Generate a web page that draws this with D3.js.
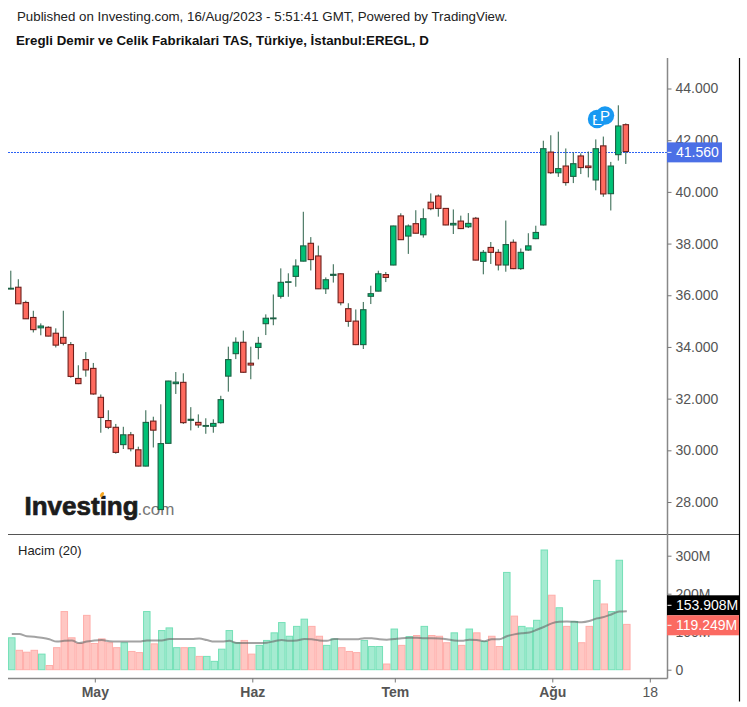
<!DOCTYPE html>
<html>
<head>
<meta charset="utf-8">
<script src="https://cdn.jsdelivr.net/npm/d3@7"></script>
<style>
    html, body { margin: 0; padding: 0; background: #fff; }
    svg { display: block; font-family: "Liberation Sans", Arial, sans-serif; }
</style>
</head>
<body>
<div id="chart"></div>
<script>
// values, one entry per trading day
var opens = [36.24,36.31,35.72,35.14,34.74,34.76,34.53,34.37,34.09,32.78,
    33.51,33.17,32.05,31.15,30.89,30.22,30.60,30.02,29.39,31.13,
    27.71,30.27,32.58,32.63,31.16,31.08,30.93,30.93,31.07,32.87,
    33.74,34.18,33.37,33.98,34.90,35.09,35.96,36.50,36.73,37.32,
    38.01,37.52,36.25,36.77,36.83,35.48,35.00,34.09,35.96,36.16,
    36.80,37.17,39.07,38.29,38.77,38.34,39.60,39.84,39.36,38.72,
    38.87,38.65,38.98,37.31,37.85,37.66,37.17,38.05,37.03,37.75,
    38.19,38.72,41.54,40.74,41.00,40.60,41.39,41.00,40.46,41.78,
    39.93,41.44,42.60];
var highs = [36.95,36.62,35.79,35.40,34.91,34.80,34.72,35.40,34.19,33.29,
    33.80,33.38,32.16,31.55,31.02,30.91,30.71,30.14,31.55,31.30,
    31.78,32.69,33.03,32.98,31.67,31.39,31.24,31.20,32.11,34.01,
    34.37,34.63,34.01,34.39,35.26,36.03,37.04,36.85,37.39,39.23,
    38.25,37.92,36.69,37.20,36.85,35.69,35.45,35.74,36.37,36.95,
    36.90,38.69,39.17,38.74,39.29,39.36,39.94,39.90,39.37,39.32,
    39.08,39.18,39.03,37.75,38.06,37.78,38.89,38.16,37.81,38.40,
    38.69,41.98,42.19,42.33,41.68,41.52,41.49,41.56,42.03,42.14,
    41.16,43.35,42.65];
var lows = [36.23,35.66,35.08,34.56,34.45,34.41,33.98,34.06,32.81,32.56,
    32.85,32.15,30.68,30.82,29.87,30.05,29.96,29.38,29.38,30.11,
    27.69,30.26,32.18,31.02,30.77,30.87,30.64,30.68,31.03,32.27,
    33.53,33.00,32.75,33.52,34.46,34.84,35.87,35.94,36.33,37.31,
    36.96,36.24,36.05,36.49,35.61,34.78,34.07,33.92,35.66,36.15,
    36.51,37.16,38.14,37.60,38.39,38.23,39.29,39.04,38.71,38.37,
    38.56,38.60,37.35,36.81,37.21,36.96,36.91,37.01,36.98,37.72,
    38.17,38.70,40.69,40.58,40.24,40.34,40.69,40.56,40.06,39.81,
    39.28,41.21,41.08];
var closes = [36.27,35.67,35.09,34.67,34.81,34.42,34.07,34.14,32.86,32.58,
    33.11,32.18,31.27,30.89,29.92,30.60,30.06,29.39,31.08,30.78,
    30.26,32.68,32.64,31.07,31.20,30.98,30.96,31.04,31.96,33.51,
    34.18,33.02,33.30,34.14,35.11,35.12,36.50,36.52,37.13,37.91,
    37.38,36.25,36.60,36.81,35.71,34.99,34.09,35.44,36.06,36.83,
    36.69,38.68,38.15,38.68,38.40,38.96,39.35,39.36,38.72,38.78,
    38.58,38.78,37.36,37.66,37.66,37.17,37.96,37.03,37.66,37.91,
    38.43,41.67,40.74,40.90,40.36,41.09,40.94,40.94,41.67,39.92,
    41.00,42.55,41.56];

// volume in millions
var volumes = [84,51,46,51,41,11,58,153,84,69,
    143,69,81,71,58,71,48,45,153,68,
    103,110,58,58,58,35,35,22,54,103,
    71,77,41,64,77,97,124,88,114,133,
    114,88,64,81,58,48,45,77,61,61,
    15,107,64,87,90,114,90,88,71,97,
    64,107,97,74,88,61,256,141,114,110,
    130,315,196,163,114,127,71,114,235,173,
    153,288,119.249];
var volumeMA = [94,94,88,87,84,80,74,76,77,70,
    74,77,78,75,74,74,74,74,77,77,
    77,81,81,81,81,82,78,74,74,76,
    70,70,70,70,71,75,78,76,77,81,
    80,77,76,81,80,80,80,83,83,80,
    79,81,83,84,84,83,83,82,80,77,
    76,79,78,75,80,80,88,93,96,98,
    105,113,122,126,127,126,125,128,135,139,
    146,153,153.908];

var priceTicks = [28,30,32,34,36,38,40,42,44];
var volumeTicks = [0,100,200,300];
var timeTicks = [11,32,51,72,85];
var timeLabels = ["May","Haz","Tem","Ağu","18"];
var lastClose = 41.56;
var lastMA = 153.908;
var lastVolume = 119.249;

var width = 747, height = 707;
var left = 8, axisX = 667.5, borderX = 739.5;
var paneTop = 58, paneBottom = 534.5, timeY = 678.5;

var svg = d3.select("#chart").append("svg")
    .attr("width", width)
    .attr("height", height);

var x = d3.scaleLinear().domain([0, 82]).range([10.8, 625.8]);
var y = d3.scaleLinear().domain([28, 44]).range([502, 88.5]);
var yVol = d3.scaleLinear().domain([0, 300]).range([669.7, 555.7]);

svg.append("clipPath").attr("id", "plot")
    .append("rect").attr("x", left).attr("y", 0).attr("width", axisX - left).attr("height", height);

// header
svg.append("text").attr("x", 17).attr("y", 21)
    .style("font-size", "13.3px").attr("fill", "#222")
    .text("Published on Investing.com, 16/Aug/2023 - 5:51:41 GMT, Powered by TradingView.");
svg.append("text").attr("x", 16).attr("y", 45)
    .style("font-size", "13.3px").style("font-weight", "bold").attr("fill", "#111")
    .text("Eregli Demir ve Celik Fabrikalari TAS, Türkiye, İstanbul:EREGL, D");
svg.append("text").attr("x", 18).attr("y", 554.5)
    .style("font-size", "13px").attr("fill", "#222")
    .text("Hacim (20)");

// logo sits under the candles
var logo = svg.append("g");
logo.append("text").attr("x", 24.5).attr("y", 514.5)
    .style("font-size", "26px").style("font-weight", "bold")
    .attr("fill", "#1c1c1c").attr("stroke", "#1c1c1c").attr("stroke-width", 0.7)
    .text("Investing");
logo.append("text").attr("x", 137.5).attr("y", 514.5)
    .style("font-size", "17px").attr("fill", "#777")
    .text(".com");
logo.append("ellipse").attr("cx", 102).attr("cy", 494.5).attr("rx", 1.6).attr("ry", 2.8)
    .attr("transform", "rotate(35 102 494.5)").attr("fill", "#f5a623");

// volume bars
var barsG = svg.append("g").attr("clip-path", "url(#plot)");
barsG.selectAll("rect")
    .data(volumes)
    .enter()
    .append("rect")
        .attr("x", function(d, i) { return x(i) + 1 - 3.25; })
        .attr("y", function(d) { return yVol(d); })
        .attr("width", 6.5)
        .attr("height", function(d) { return yVol(0) - yVol(d); })
        .attr("fill", function(d, i) { return closes[i] >= opens[i] ? "#a5ebd1" : "#ffc7c3"; })
        .attr("stroke", function(d, i) { return closes[i] >= opens[i] ? "#74e0b7" : "#ffaeaa"; })
        .attr("stroke-width", 1);

var maLine = d3.line()
    .x(function(d, i) { return x(i) + 1; })
    .y(function(d) { return yVol(d); })
    .curve(d3.curveMonotoneX);

svg.append("path")
    .attr("d", maLine(volumeMA))
    .attr("fill", "none")
    .attr("stroke", "#666")
    .attr("stroke-opacity", 0.6)
    .attr("stroke-width", 2);

// last price line
svg.append("line")
    .attr("x1", left).attr("x2", axisX)
    .attr("y1", Math.round(y(lastClose)) + 0.5).attr("y2", Math.round(y(lastClose)) + 0.5)
    .attr("stroke", "#2b62f5").attr("stroke-width", 1).attr("stroke-dasharray", "2 1");

// candles
var candles = svg.append("g").attr("clip-path", "url(#plot)")
    .selectAll("g")
    .data(closes)
    .enter()
    .append("g");

function isUp(i) { return closes[i] >= opens[i]; }

candles.append("line")
    .attr("x1", function(d, i) { return x(i); })
    .attr("x2", function(d, i) { return x(i); })
    .attr("y1", function(d, i) { return y(highs[i]); })
    .attr("y2", function(d, i) { return y(lows[i]); })
    .attr("stroke", "#2b6149")
    .attr("stroke-width", 1);

candles.append("rect")
    .attr("x", function(d, i) { return x(i) - 2.7; })
    .attr("y", function(d, i) { return y(Math.max(opens[i], closes[i])); })
    .attr("width", 5.4)
    .attr("height", function(d, i) { return Math.abs(y(opens[i]) - y(closes[i])); })
    .attr("fill", function(d, i) { return isUp(i) ? "#00c176" : "#ff6a5e"; })
    .attr("stroke", function(d, i) { return isUp(i) ? "#1d5f43" : "#6e1f1c"; })
    .attr("stroke-width", 1.1);

// event markers, the P badge covers most of the E
[["E", 597, 119], ["P", 605, 115.5]].forEach(function(m) {
    svg.append("circle").attr("cx", m[1]).attr("cy", m[2]).attr("r", 9.2).attr("fill", "#1899f2");
    svg.append("text").attr("x", m[1]).attr("y", m[2] + 5.5)
        .attr("text-anchor", "middle").attr("fill", "#fff")
        .style("font-size", "15px")
        .text(m[0]);
});

// frame lines
svg.append("line").attr("x1", left).attr("x2", borderX).attr("y1", paneBottom).attr("y2", paneBottom)
    .attr("stroke", "#555").attr("stroke-width", 1);
svg.append("line").attr("x1", axisX).attr("x2", axisX).attr("y1", paneTop).attr("y2", timeY)
    .attr("stroke", "#888").attr("stroke-width", 1.5);
svg.append("line").attr("x1", left).attr("x2", axisX).attr("y1", timeY).attr("y2", timeY)
    .attr("stroke", "#888").attr("stroke-width", 1.5);
svg.append("line").attr("x1", borderX).attr("x2", borderX).attr("y1", paneTop).attr("y2", 701.5)
    .attr("stroke", "#000").attr("stroke-width", 1.2);

// axes
function styleAxis(g) {
    g.select(".domain").remove();
    g.selectAll(".tick line").attr("stroke", "#777");
    g.selectAll(".tick text").attr("fill", "#555").style("font-size", "14px")
        .style("font-family", '"Liberation Sans", Arial, sans-serif');
}

svg.append("g")
    .attr("transform", "translate(" + axisX + ",0)")
    .call(d3.axisRight(y).tickValues(priceTicks).tickSize(4).tickPadding(4).tickFormat(d3.format(".3f")))
    .call(styleAxis);

svg.append("g")
    .attr("transform", "translate(" + axisX + ",0)")
    .call(d3.axisRight(yVol).tickValues(volumeTicks).tickSize(4).tickPadding(4)
        .tickFormat(function(d) { return d ? d + "M" : "0"; }))
    .call(styleAxis);

var timeAxis = svg.append("g")
    .attr("transform", "translate(1.5," + timeY + ")")
    .call(d3.axisBottom(x).tickValues(timeTicks).tickSize(4).tickPadding(5)
        .tickFormat(function(d, i) { return timeLabels[i]; }))
    .call(styleAxis);
timeAxis.selectAll(".tick text")
    .style("font-weight", function(d, i) { return timeLabels[i] == "18" ? "normal" : "bold"; });

// value tags on the right
function tag(yPos, label, color, right) {
    svg.append("rect")
        .attr("x", axisX - 0.5).attr("y", yPos - 10)
        .attr("width", right - axisX + 0.5).attr("height", 20)
        .attr("fill", color);
    svg.append("line").attr("x1", axisX).attr("x2", axisX + 4).attr("y1", yPos).attr("y2", yPos)
        .attr("stroke", "#fff");
    svg.append("text").attr("x", axisX + 8.5).attr("y", yPos + 5)
        .attr("fill", "#fff").style("font-size", "14px")
        .text(label);
}

tag(y(lastClose) + 0.8, d3.format(".3f")(lastClose), "#4b6fe6", 722);
tag(605.3, d3.format(".3f")(lastMA) + "M", "#000", 739);
tag(625.3, d3.format(".3f")(lastVolume) + "M", "#fb6a62", 739);
</script>
</body>
</html>
